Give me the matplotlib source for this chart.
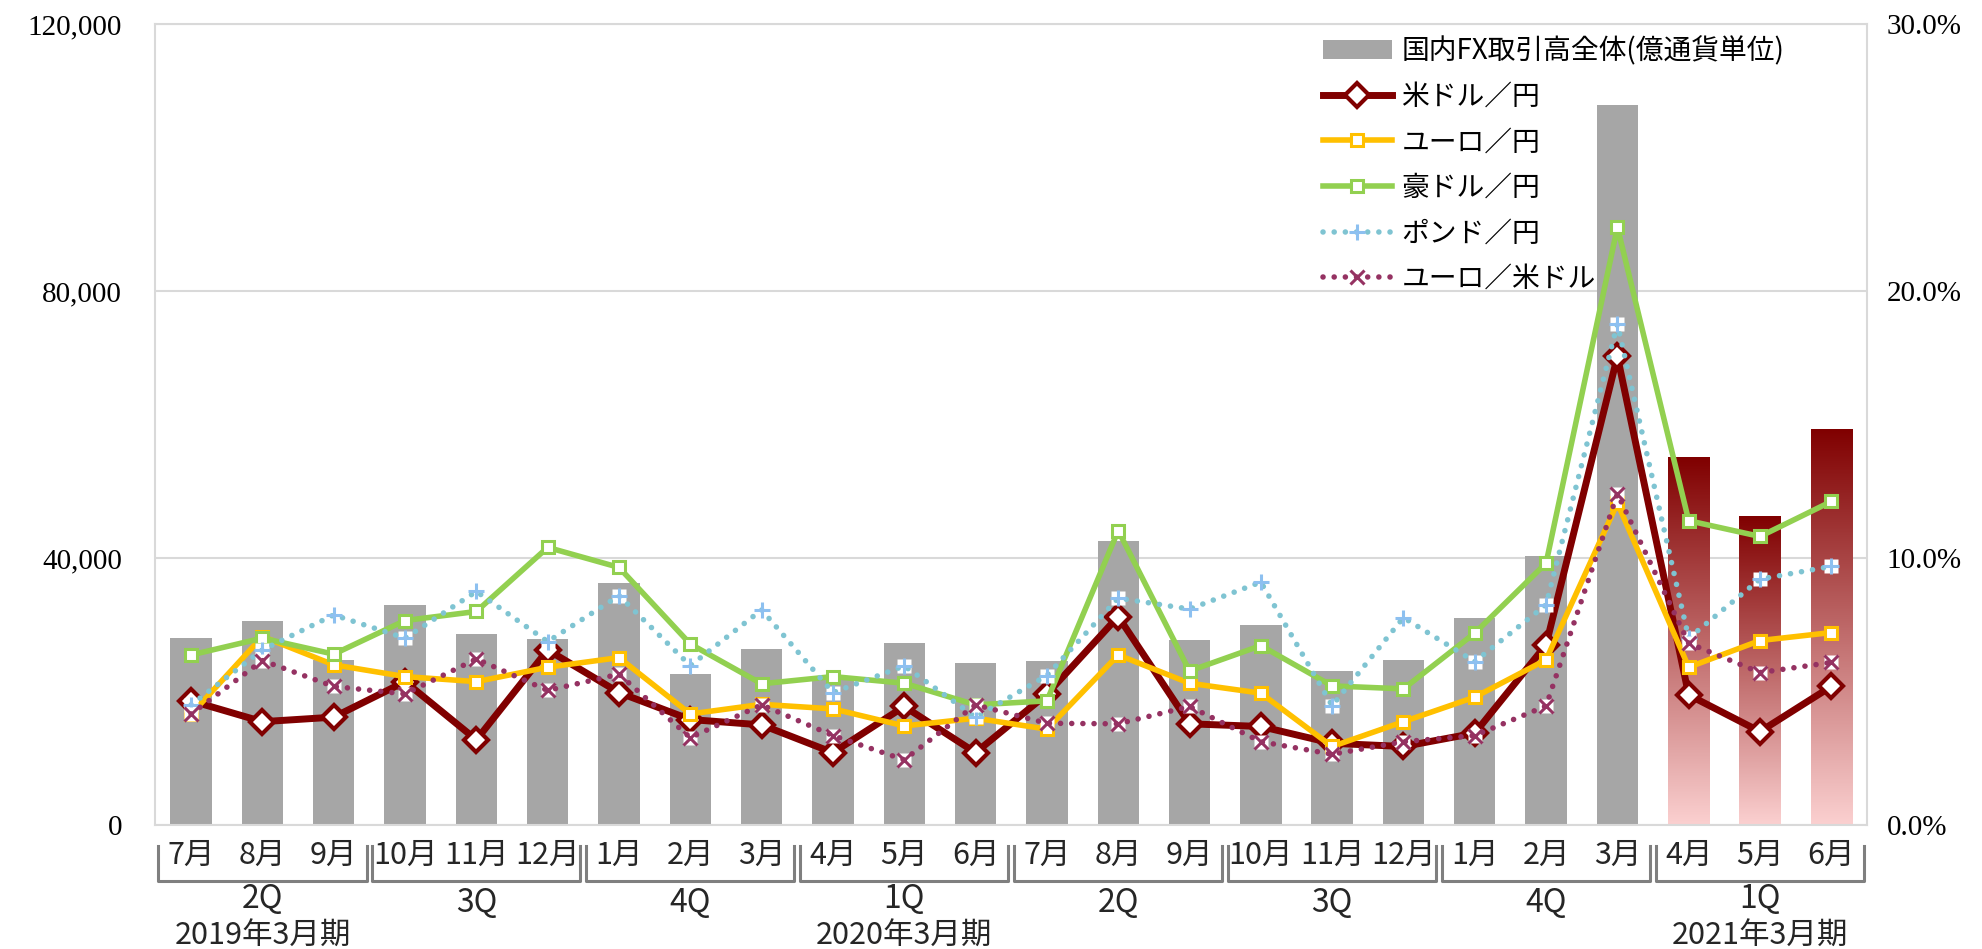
import numpy as np
import matplotlib.pyplot as plt
import matplotlib.transforms as mtransforms
from matplotlib.colors import LinearSegmentedColormap
from matplotlib.ticker import FuncFormatter

plt.rcParams['font.family'] = ['Noto Sans CJK JP', 'DejaVu Sans']

# data
months = ['7月', '8月', '9月', '10月', '11月', '12月', '1月', '2月', '3月',
          '4月', '5月', '6月', '7月', '8月', '9月', '10月', '11月', '12月',
          '1月', '2月', '3月', '4月', '5月', '6月']
quarters = ['2Q', '3Q', '4Q', '1Q', '2Q', '3Q', '4Q', '1Q']
fiscal_years = {0: '2019年3月期', 3: '2020年3月期', 7: '2021年3月期'}

# 国内FX取引高全体 (億通貨単位)
total_volume = [28000, 30600, 24750, 33000, 28650, 27900, 36250, 22700,
                26350, 22000, 27200, 24300, 24600, 42600, 27750, 29900,
                23050, 24750, 31000, 40350, 107850, 55200, 46350, 59400]

# shares (%)
usd_jpy = [4.65, 3.87, 4.04, 5.37, 3.19, 6.56, 4.96, 3.95, 3.75, 2.71, 4.44, 2.71,
           4.90, 7.81, 3.79, 3.69, 3.06, 2.94, 3.44, 6.75, 17.56, 4.87, 3.50, 5.19]
eur_jpy = [4.15, 7.06, 6.00, 5.56, 5.37, 5.91, 6.27, 4.16, 4.52, 4.35, 3.71, 4.00,
           3.59, 6.37, 5.31, 4.94, 2.94, 3.87, 4.79, 6.19, 12.06, 5.91, 6.91, 7.21]
aud_jpy = [6.37, 7.00, 6.40, 7.66, 8.00, 10.40, 9.65, 6.78, 5.29, 5.56, 5.31, 4.50,
           4.65, 11.03, 5.77, 6.72, 5.21, 5.10, 7.19, 9.81, 22.40, 11.40, 10.81, 12.12]
gbp_jpy = [4.50, 6.56, 7.87, 7.00, 8.75, 6.87, 8.59, 5.97, 8.06, 4.96, 5.96, 4.04,
           5.60, 8.50, 8.09, 9.10, 4.47, 7.77, 6.12, 8.25, 18.77, 7.00, 9.21, 9.69]
eur_usd = [4.16, 6.16, 5.19, 4.91, 6.22, 5.04, 5.65, 3.27, 4.50, 3.35, 2.44, 4.50,
           3.81, 3.79, 4.44, 3.12, 2.65, 3.12, 3.35, 4.46, 12.41, 6.81, 5.71, 6.09]

x = np.arange(len(months))

fig = plt.figure(figsize=(19.83, 9.49), dpi=100)
ax = fig.add_axes([0.0784, 0.1307, 0.8631, 0.8437])

# bars
bars = ax.bar(x, total_volume, width=0.58, color='#A6A6A6', zorder=2,
              label='国内FX取引高全体(億通貨単位)')

# gradient for the latest quarter
cmap = LinearSegmentedColormap.from_list('grad', ['#FBD0D0', '#800000'])
grad = np.linspace(0, 1, 256).reshape(-1, 1)
for i in range(21, 24):
    b = bars[i]
    b.set_facecolor('none')
    x0, w, h = b.get_x(), b.get_width(), b.get_height()
    im = ax.imshow(grad, extent=[x0, x0 + w, 0, h], origin='lower',
                   cmap=cmap, aspect='auto', zorder=2)
    im.set_clip_path(b)

ax.set_xlim(-0.5, len(months) - 0.5)
ax.set_ylim(0, 120000)
ax.set_yticks([0, 40000, 80000, 120000])
ax.yaxis.set_major_formatter(FuncFormatter(lambda v, p: f'{v:,.0f}'))
ax.yaxis.grid(True, color='#D9D9D9', linewidth=1.5)
ax.set_axisbelow(True)
ax.set_xticks([])
ax.tick_params(axis='y', length=0, pad=24, labelsize=21)
for lbl in ax.get_yticklabels():
    lbl.set_fontfamily('Liberation Serif')
for s in ax.spines.values():
    s.set_color('#D9D9D9')
    s.set_linewidth(1.5)

# lines on the right axis
ax2 = ax.twinx()
ax2.set_ylim(0, 30)
ax2.set_yticks([0, 10, 20, 30])
ax2.yaxis.set_major_formatter(FuncFormatter(lambda v, p: f'{v:.1f}%'))
ax2.tick_params(axis='y', length=0, pad=14, labelsize=21)
for lbl in ax2.get_yticklabels():
    lbl.set_fontfamily('Liberation Serif')
for s in ax2.spines.values():
    s.set_visible(False)

l1, = ax2.plot(x, usd_jpy, color='#800000', lw=5, marker='D', ms=12,
               mfc='white', mec='#800000', mew=3, label='米ドル／円', zorder=3)
l2, = ax2.plot(x, eur_jpy, color='#FFC000', lw=4, marker='s', ms=9,
               mfc='white', mec='#FFC000', mew=2.2, label='ユーロ／円', zorder=4)
l3, = ax2.plot(x, aud_jpy, color='#92D050', lw=4, marker='s', ms=9,
               mfc='white', mec='#92D050', mew=2.2, label='豪ドル／円', zorder=5)
ax2.plot(x, gbp_jpy, ls='none', marker='s', ms=10, mfc='white', mec='none', zorder=6)
l4, = ax2.plot(x, gbp_jpy, color='#7FC4D2', lw=4, ls=(0, (0.01, 2.0)),
               dash_capstyle='round', marker='+', ms=12, mec='#8DC0F0', mew=2.2,
               label='ポンド／円', zorder=6)
ax2.plot(x, eur_usd, ls='none', marker='s', ms=10, mfc='white', mec='none', zorder=7)
l5, = ax2.plot(x, eur_usd, color='#953262', lw=4, ls=(0, (0.01, 2.0)),
               dash_capstyle='round', marker='x', ms=10, mec='#953262', mew=2.2,
               label='ユーロ／米ドル', zorder=7)

leg = ax2.legend(handles=[bars, l1, l2, l3, l4, l5], loc='upper left',
                 bbox_to_anchor=(0.667, 0.962), bbox_transform=fig.transFigure,
                 frameon=False, fontsize=20, handlelength=2.5, handletextpad=0.33,
                 labelspacing=0.56, borderpad=0, borderaxespad=0)

# category axis labels
trans = mtransforms.blended_transform_factory(ax.transData, ax.transAxes)
for i, m in enumerate(months):
    ax.text(i, -0.038, m, transform=trans, ha='center', va='center', fontsize=22,
            color='#262626')

for k, q in enumerate(quarters):
    x0 = 3 * k - 0.5 + 0.04
    x1 = 3 * k + 2.5 - 0.04
    ax.plot([x0, x0, x1, x1], [-0.026, -0.0696, -0.0696, -0.026], transform=trans,
            color='#7F7F7F', lw=2.2, clip_on=False)
    yq = -0.093 if k in fiscal_years else -0.098
    ax.text(3 * k + 1, yq, q, transform=trans, ha='center', va='center',
            fontsize=23, color='#262626')
    if k in fiscal_years:
        ax.text(3 * k + 1, -0.139, fiscal_years[k], transform=trans, ha='center',
                va='center', fontsize=22, color='#262626')

fig.savefig('out.png', dpi=100)
